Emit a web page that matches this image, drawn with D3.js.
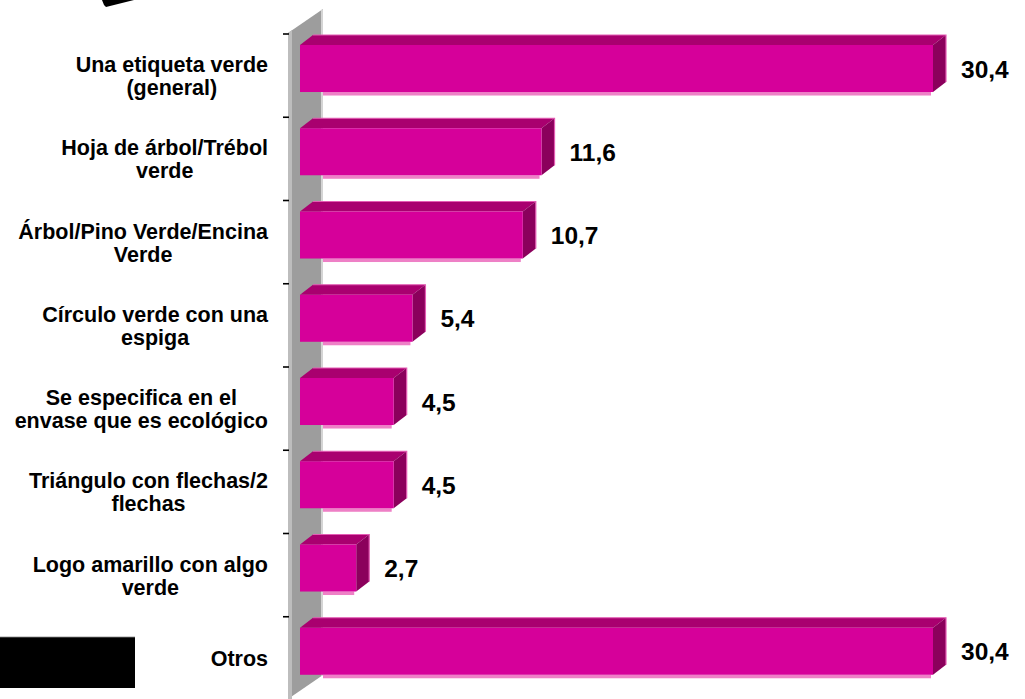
<!DOCTYPE html>
<html>
<head>
<meta charset="utf-8">
<script src="https://cdn.jsdelivr.net/npm/d3@7"></script>
<style>
  html, body { margin: 0; padding: 0; background: #ffffff; }
  svg { display: block; }
  text { font-family: Arial, "Liberation Sans", sans-serif; font-weight: bold; fill: #000; }
</style>
</head>
<body>
<svg id="chart" width="1025" height="699"></svg>
<script>
// ---- data ----
const categories = [
  "Una etiqueta verde|(general)",
  "Hoja de árbol/Trébol|verde",
  "Árbol/Pino Verde/Encina|Verde",
  "Círculo verde con una|espiga",
  "Se especifica en el|envase que es ecológico",
  "Triángulo con flechas/2|flechas",
  "Logo amarillo con algo|verde",
  "Otros"
];
const values = [30.4, 11.6, 10.7, 5.4, 4.5, 4.5, 2.7, 30.4];
const valueLabels = ["30,4", "11,6", "10,7", "5,4", "4,5", "4,5", "2,7", "30,4"];

// ---- layout ----
const W = 1025, H = 699;
const svg = d3.select("#chart");
svg.append("rect").attr("width", W).attr("height", H).attr("fill", "#fff");

const x = d3.scaleLinear().domain([0, 30.4]).range([300, 933]);
const y = d3.scaleBand().domain(categories).range([34, 700]).paddingInner(0).paddingOuter(0);
const step = y.step();
const frontTop = c => y(c) + step * 0.132;
const frontH = step * 0.565;
const dx = 13, dy = -10;

// ---- wall ----
const wallL = x(0) - 12, wallR = x(0) + 23;
const wallTop = y.range()[0] - 1, wallBot = H;
const wall = svg.append("g");
wall.append("polygon")
  .attr("points", [[wallL, wallTop], [wallR, wallTop - 24], [wallR, wallBot - 24], [wallL, wallBot]].join(" "))
  .attr("fill", "#9d9d9d");
wall.append("polygon")
  .attr("points", [[wallL, wallTop], [wallL + 4, wallTop - 3], [wallL + 4, wallBot], [wallL, wallBot]].join(" "))
  .attr("fill", "#bdbdbd");
wall.append("polygon")
  .attr("points", [[wallR - 2, wallTop - 23], [wallR, wallTop - 24], [wallR, wallBot - 24], [wallR - 2, wallBot - 23]].join(" "))
  .attr("fill", "#d4d4d4");

// ---- ticks ----
const tickYs = categories.map(c => y(c));
svg.append("g").selectAll("line").data(tickYs).join("line")
  .attr("x1", wallL - 5).attr("x2", wallL + 1)
  .attr("y1", d => d).attr("y2", d => d)
  .attr("stroke", "#000").attr("stroke-width", 1.6);

// ---- bars ----
const bars = svg.append("g").selectAll("g").data(categories).join("g");
bars.each(function(c, i) {
  const g = d3.select(this);
  const x0 = x(0), x1 = x(values[i]);
  const t = frontTop(c), b = t + frontH;
  // bottom light strip
  g.append("rect")
    .attr("x", wallR).attr("y", b)
    .attr("width", Math.max(0, x1 - 2 - wallR)).attr("height", 3.5)
    .attr("fill", "#ee80c6");
  // top face
  g.append("polygon")
    .attr("points", [[x0, t], [x0 + dx, t + dy], [x1 + dx, t + dy], [x1, t]].join(" "))
    .attr("fill", "#a9006f");
  // right face
  g.append("polygon")
    .attr("points", [[x1, t], [x1 + dx, t + dy], [x1 + dx, b + dy], [x1, b]].join(" "))
    .attr("fill", "#8b005c");
  // front face
  g.append("rect")
    .attr("x", x0).attr("y", t).attr("width", x1 - x0).attr("height", frontH)
    .attr("fill", "#d6009a");
  // light back edges
  g.append("polyline")
    .attr("points", [[x0 + dx, t + dy], [x1 + dx, t + dy], [x1 + dx, b + dy]].join(" "))
    .attr("fill", "none").attr("stroke", "#e45cb4").attr("stroke-width", 1.2);
  // value label
  g.append("text")
    .attr("x", x1 + 28).attr("y", t + frontH / 2 + 9)
    .attr("font-size", "24.5px")
    .text(valueLabels[i]);
});

// ---- category labels ----
const labelRight = 268;
const lineGap = 23;
categories.forEach(c => {
  const lines = c.split("|");
  const cy = y(c) + step / 2;
  const g = svg.append("g");
  const texts = lines.map((ln, j) =>
    g.append("text")
      .attr("font-size", "21.5px")
      .attr("text-anchor", "middle")
      .attr("y", cy + 8 + (j - (lines.length - 1) / 2) * lineGap)
      .text(ln));
  const maxW = d3.max(texts, t => t.node().getComputedTextLength());
  texts.forEach(t => t.attr("x", labelRight - maxW / 2));
});

// ---- decorative black shapes ----
svg.append("polygon")
  .attr("points", "102,0 134,0 106,7 104,5")
  .attr("fill", "#000");
svg.append("rect")
  .attr("x", 0).attr("y", 637).attr("width", 135).attr("height", 51)
  .attr("fill", "#000");
svg.append("line")
  .attr("x1", 0).attr("x2", 135).attr("y1", 637).attr("y2", 637)
  .attr("stroke", "#888").attr("stroke-width", 0.8);
</script>
</body>
</html>
